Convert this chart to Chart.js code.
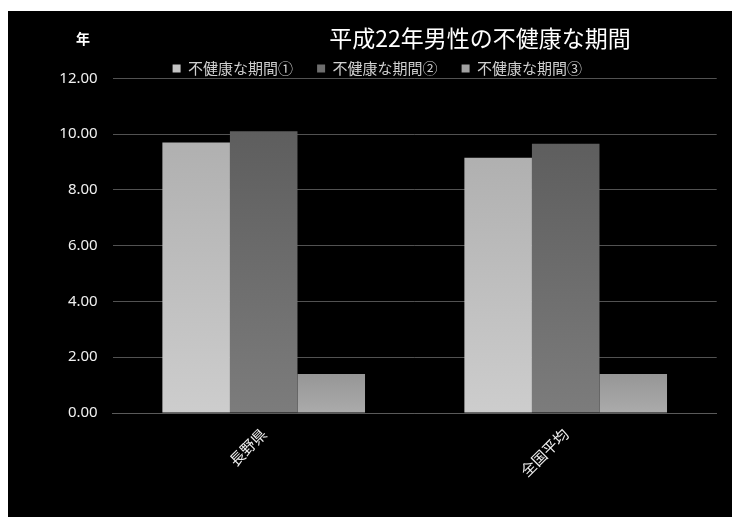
<!DOCTYPE html>
<html>
<head>
<meta charset="utf-8">
<script src="https://cdn.jsdelivr.net/npm/chart.js@4"></script>
<style>
  html, body { margin: 0; padding: 0; background: #fff; }
  #wrap { position: absolute; left: 8px; top: 11px; width: 724px; height: 506px; background: #000; }
</style>
</head>
<body>
<div id="wrap"><canvas id="chart" width="724" height="506"></canvas></div>
<script>
// datos
const categories = ['長野県', '全国平均'];
const seriesNames = ['不健康な期間①', '不健康な期間②', '不健康な期間③'];
const period1 = [9.70, 9.15];
const period2 = [10.10, 9.65];
const period3 = [1.40, 1.40];
const chartTitle = '平成22年男性の不健康な期間';
const yUnit = '年';

// colores: [arriba, abajo]
const shades = [
    ['#b0b0b0', '#cdcdcd'],
    ['#5e5e5e', '#7c7c7c'],
    ['#969696', '#ababab']
];
const legendColors = ['#c4c4c4', '#6e6e6e', '#a2a2a2'];

const FONT = '"Noto Sans CJK JP", "Noto Sans", sans-serif';

function barGradient(i) {
    return function (context) {
        const chart = context.chart;
        const y = chart.scales.y;
        if (!chart.chartArea || !y || context.raw == null) return legendColors[i];
        const top = y.getPixelForValue(context.raw);
        const bottom = y.getPixelForValue(0);
        const g = chart.ctx.createLinearGradient(0, top, 0, bottom);
        g.addColorStop(0, shades[i][0]);
        g.addColorStop(1, shades[i][1]);
        return g;
    };
}

const datasets = [period1, period2, period3].map((values, i) => ({
    label: seriesNames[i],
    data: values,
    backgroundColor: barGradient(i),
    borderWidth: 0
}));

//titulo y unidad
const extraText = {
    id: 'extraText',
    afterDraw(chart) {
        const c = chart.ctx;
        c.save();
        c.fillStyle = '#ffffff';
        c.textAlign = 'center';
        c.textBaseline = 'middle';
        c.font = '23px ' + FONT;
        c.fillText(chartTitle, 472, 27);
        c.font = 'bold 14px ' + FONT;
        c.fillText(yUnit, 75, 28);
        c.restore();
    }
};

//altura fija de la leyenda
const legendHeight = {
    id: 'legendHeight',
    beforeLayout(chart) {
        const lg = chart.legend;
        if (lg && !lg._fixed) {
            const fit = lg.fit;
            lg.fit = function () { fit.call(this); this.height = 41.3; };
            lg._fixed = true;
        }
    }
};

new Chart(document.getElementById('chart'), {
    type: 'bar',
    data: { labels: categories, datasets: datasets },
    plugins: [legendHeight, extraText],
    options: {
        responsive: false,
        animation: false,
        layout: { padding: { top: 26, left: 30, right: 15.3, bottom: 0 } },
        datasets: { bar: { barPercentage: 1, categoryPercentage: 0.671 } },
        plugins: {
            title: { display: false },
            tooltip: { enabled: false },
            legend: {
                position: 'top',
                align: 'center',
                labels: {
                    boxWidth: 8,
                    boxHeight: 8,
                    padding: 24,
                    color: '#d0d0d0',
                    font: { family: FONT, size: 15 },
                    generateLabels(chart) {
                        return seriesNames.map((name, i) => ({
                            text: name,
                            fillStyle: legendColors[i],
                            strokeStyle: legendColors[i],
                            lineWidth: 0,
                            fontColor: '#d0d0d0',
                            datasetIndex: i,
                            hidden: false
                        }));
                    }
                }
            }
        },
        scales: {
            x: {
                grid: { display: false, drawTicks: false },
                border: { display: true, color: '#5a5a5a', width: 1 },
                ticks: {
                    color: '#f0f0f0',
                    font: { family: FONT, size: 15 },
                    minRotation: 45,
                    maxRotation: 45,
                    padding: 12
                },
                afterFit(scale) { scale.height = 104; }
            },
            y: {
                min: 0,
                max: 12,
                grid: { color: '#525252', lineWidth: 1, drawTicks: false },
                border: { display: false },
                ticks: {
                    stepSize: 2,
                    color: '#f0f0f0',
                    padding: 15,
                    font: { family: '"Noto Sans", sans-serif', size: 15 },
                    callback: v => v.toFixed(2)
                },
                afterFit(scale) { scale.width = 74.7; }
            }
        }
    }
});
</script>
</body>
</html>
